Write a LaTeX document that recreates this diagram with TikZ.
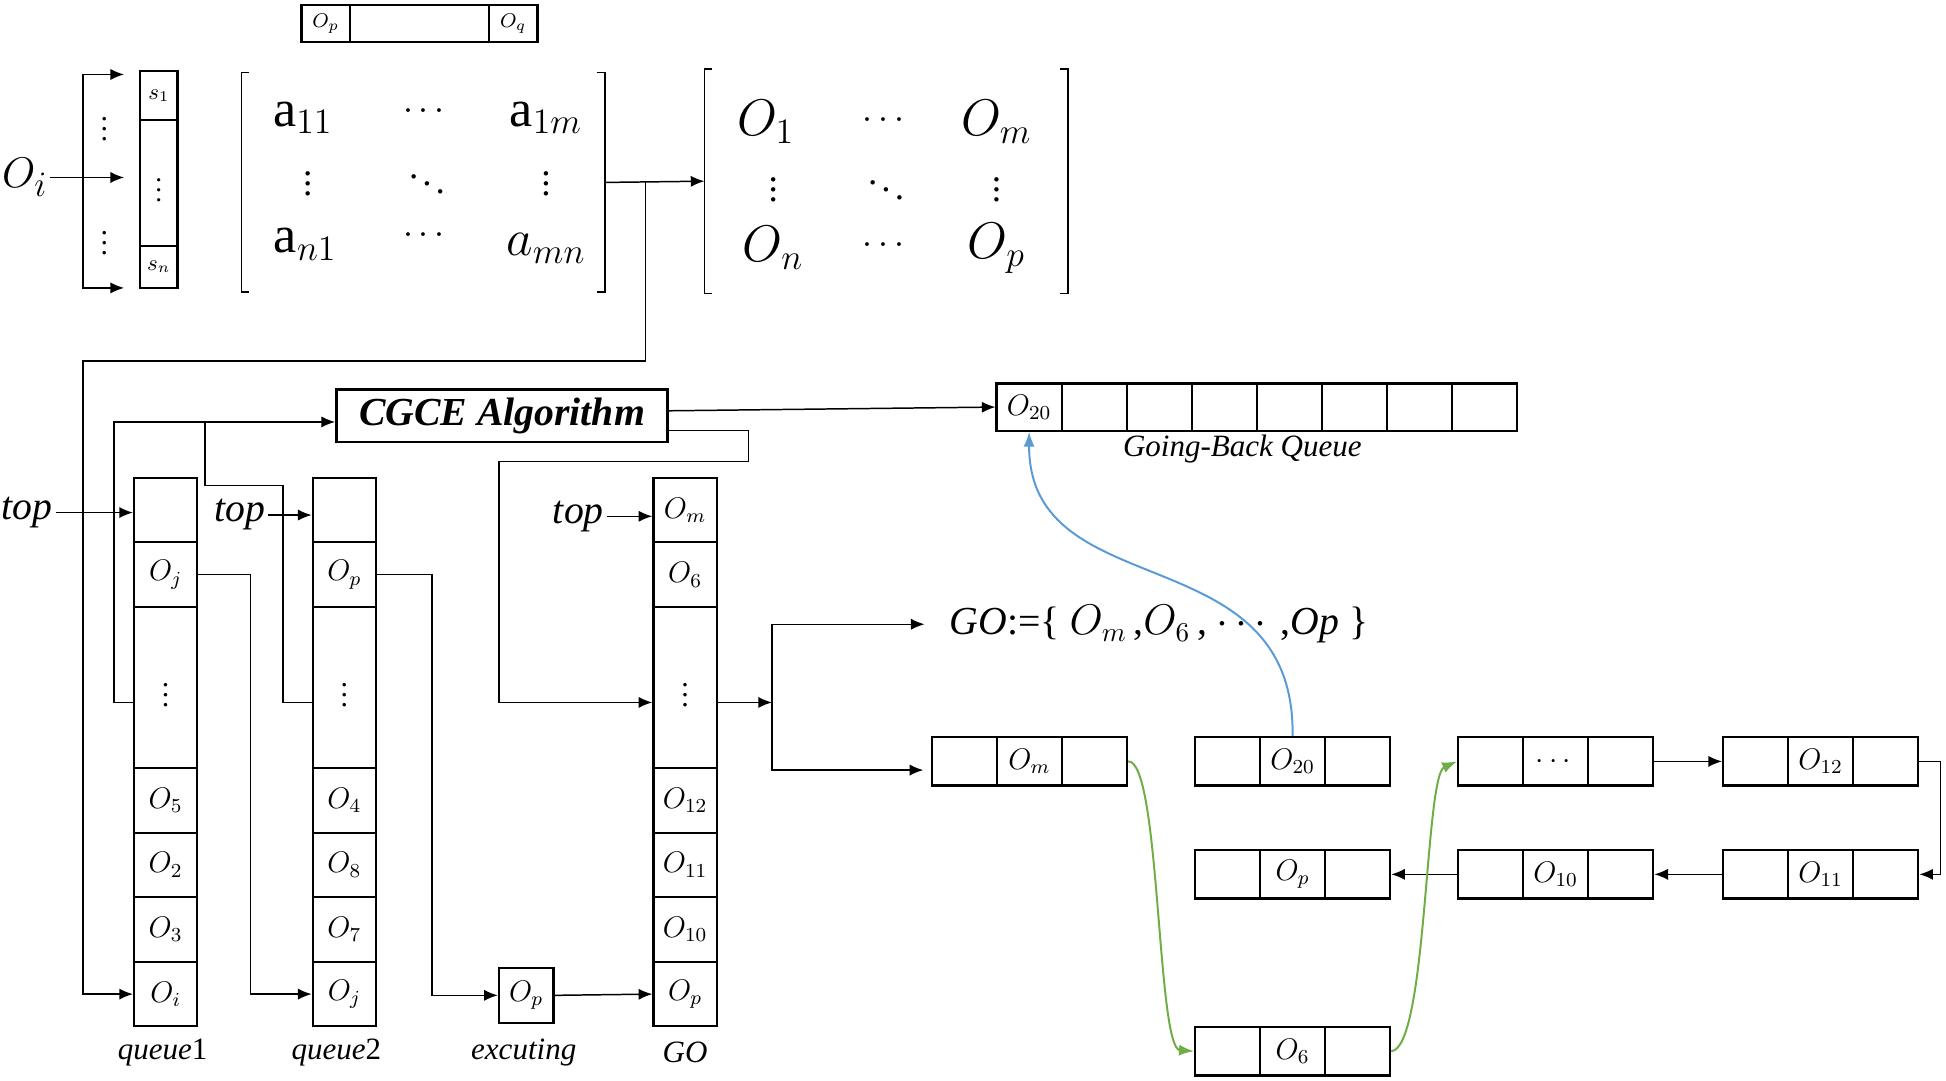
\documentclass[tikz,border=0pt]{standalone}
\usepackage{amsmath}
\usepackage{amssymb}
\usepackage{fontspec}
\setmainfont{Liberation Serif}
\usepackage{tikz}
\usetikzlibrary{arrows.meta}

% three-cell list node: name, x, y, label
\newcommand{\listnode}[4]{%
	\node[lcell] (#1l) at (#2-52.4,#3) {};
	\node[lcell] (#1) at (#2,#3) {#4};
	\node[lcell] (#1r) at (#2+52.4,#3) {};
}

\begin{document}
\begin{tikzpicture}[x=0.5pt,y=-0.5pt]
	\tikzset{cell/.style={draw, line width=0.9pt, minimum width=25.5pt, minimum height=26pt, inner sep=0pt, font=\fontsize{12}{14}\selectfont}}
	\tikzset{lcell/.style={draw, line width=0.9pt, minimum width=26.2pt, minimum height=19.5pt, inner sep=0pt, font=\fontsize{12}{14}\selectfont}}
	\tikzset{conn/.style={line width=0.6pt}}
	\tikzset{arr/.style={conn, -{Latex[length=5.5pt,width=4.5pt]}}}
	\tikzset{brk/.style={line width=0.6pt}}
	\tikzset{lbl/.style={font=\fontsize{12.5}{14}\selectfont\itshape, inner sep=1pt}}
	\tikzset{toplbl/.style={font=\fontsize{16}{18}\selectfont\itshape, inner sep=1pt}}
	\tikzset{bigm/.style={font=\fontsize{21}{24}\selectfont, inner sep=0pt}}
	\tikzset{dotm/.style={font=\fontsize{15}{16}\selectfont, inner sep=0pt}}
	\tikzset{curvearr/.style={line width=0.8pt, -{Latex[length=6pt,width=4.5pt]}}}
	\definecolor{backblue}{RGB}{91,155,213}
	\definecolor{listgreen}{RGB}{112,173,71}
	\useasboundingbox (0,0) rectangle (1568,871);

	%top bar
	\node[draw, line width=0.9pt, minimum width=19.5pt, minimum height=15pt, inner sep=0pt, font=\fontsize{8}{9}\selectfont] (tb1) at (262.5,19) {$O_p$};
	\node[draw, line width=0.9pt, minimum width=56pt, minimum height=15pt] (tb2) at (338,19) {};
	\node[draw, line width=0.9pt, minimum width=19.5pt, minimum height=15pt, inner sep=0pt, font=\fontsize{8}{9}\selectfont] (tb3) at (413.5,19) {$O_q$};

	%input and s bar
	\node[font=\fontsize{19}{22}\selectfont, inner sep=1pt] (Oi) at (20,143) {$O_i$};
	\coordinate (fanx) at (67,143);
	\coordinate (fant) at (100,60);
	\coordinate (fanm) at (100,143);
	\coordinate (fanb) at (100,232);
	\draw[arr] (fanx) |- (fant);
	\draw[arr] (fanx) |- (fanb);
	\draw[arr] (Oi.east) -- (fanm);
	\node[font=\fontsize{12}{14}\selectfont] (fd1) at (84,98) {$\vdots$};
	\node[font=\fontsize{12}{14}\selectfont] (fd2) at (84,190) {$\vdots$};
	\node[draw, line width=0.9pt, minimum width=15pt, minimum height=20pt, inner sep=0pt, font=\fontsize{9}{10}\selectfont] (s1) at (128,77) {$s_1$};
	\node[draw, line width=0.9pt, minimum width=15pt, minimum height=50.5pt, inner sep=0pt, font=\fontsize{11}{12}\selectfont] (sm) at (128,147.5) {$\vdots$};
	\node[draw, line width=0.9pt, minimum width=15pt, minimum height=17pt, inner sep=0pt, font=\fontsize{9}{10}\selectfont] (sn) at (128,215) {$s_n$};

	%matrix a
	\node[minimum width=146pt, minimum height=88pt, inner sep=0pt] (amat) at (341,147) {};
	\draw[brk] ([xshift=3pt]amat.north west) -- (amat.north west) -- (amat.south west) -- ([xshift=3pt]amat.south west);
	\draw[brk] ([xshift=-3pt]amat.north east) -- (amat.north east) -- (amat.south east) -- ([xshift=-3pt]amat.south east);
	\node[bigm] (a11) at (244,95) {$\mathrm{a}_{11}$};
	\node[dotm] (a12) at (344,90) {$\cdots$};
	\node[bigm] (a1m) at (440,95) {$\mathrm{a}_{1m}$};
	\node[dotm] (a21) at (248,142) {$\vdots$};
	\node[dotm] (a22) at (344,142) {$\ddots$};
	\node[dotm] (a2m) at (440,142) {$\vdots$};
	\node[bigm] (an1) at (246,197) {$\mathrm{a}_{n1}$};
	\node[dotm] (an2) at (344,190) {$\cdots$};
	\node[bigm] (amn) at (440,200) {$a_{mn}$};

	%matrix O
	\node[minimum width=146pt, minimum height=90pt, inner sep=0pt] (omat) at (714,146) {};
	\draw[brk] ([xshift=3pt]omat.north west) -- (omat.north west) -- (omat.south west) -- ([xshift=3pt]omat.south west);
	\draw[brk] ([xshift=-3pt]omat.north east) -- (omat.north east) -- (omat.south east) -- ([xshift=-3pt]omat.south east);
	\node[bigm, font=\fontsize{22}{24}\selectfont] (o11) at (617,98) {$O_1$};
	\node[dotm] (o12) at (714,97) {$\cdots$};
	\node[bigm, font=\fontsize{22}{24}\selectfont] (o1m) at (803,98) {$O_m$};
	\node[dotm] (o21) at (623,147) {$\vdots$};
	\node[dotm] (o22) at (714,147) {$\ddots$};
	\node[dotm] (o2m) at (803,147) {$\vdots$};
	\node[bigm, font=\fontsize{22}{24}\selectfont] (on1) at (623,200) {$O_n$};
	\node[dotm] (on2) at (714,198) {$\cdots$};
	\node[bigm, font=\fontsize{22}{24}\selectfont] (onm) at (803,200) {$O_p$};
	\draw[arr] (amat.east) -- (omat.west);

	%queue1
	\node[cell] (q1a) at (133.5,411) {};
	\node[cell] (q1b) at (133.5,463) {$O_j$};
	\node[cell, minimum height=65pt] (q1c) at (133.5,554) {$\vdots$};
	\node[cell] (q1d) at (133.5,645) {$O_5$};
	\node[cell] (q1e) at (133.5,697) {$O_2$};
	\node[cell] (q1f) at (133.5,749) {$O_3$};
	\node[cell] (q1g) at (133.5,801) {$O_i$};
	\node[lbl] (q1n) at (131,848) {queue\upshape 1};
	\node[toplbl] (top1) at (22,413) {top};
	\draw[arr] (top1.east) -- (top1.east -| q1a.west);

	%queue2
	\node[cell] (q2a) at (277.5,411) {};
	\node[cell] (q2b) at (277.5,463) {$O_p$};
	\node[cell, minimum height=65pt] (q2c) at (277.5,554) {$\vdots$};
	\node[cell] (q2d) at (277.5,645) {$O_4$};
	\node[cell] (q2e) at (277.5,697) {$O_8$};
	\node[cell] (q2f) at (277.5,749) {$O_7$};
	\node[cell] (q2g) at (277.5,801) {$O_j$};
	\node[lbl] (q2n) at (271,848) {queue\upshape 2};
	\node[toplbl] (top2) at (193,415) {top};
	\draw[arr] (top2.east) -- (top2.east -| q2a.west);

	%excuting
	\node[cell, minimum width=22pt, minimum height=22pt] (exec) at (424,802) {$O_p$};
	\node[lbl] (execn) at (422,848) {excuting};

	%GO
	\node[cell] (go1) at (552,411) {$O_m$};
	\node[cell] (go2) at (552,463) {$O_6$};
	\node[cell, minimum height=65pt] (go3) at (552,554) {$\vdots$};
	\node[cell] (go4) at (552,645) {$O_{12}$};
	\node[cell] (go5) at (552,697) {$O_{11}$};
	\node[cell] (go6) at (552,749) {$O_{10}$};
	\node[cell] (go7) at (552,801) {$O_p$};
	\node[lbl] (gon) at (552,848) {GO};
	\node[toplbl] (top3) at (466,416) {top};
	\draw[arr] (top3.east) -- (top3.east -| go1.west);

	%CGCE
	\node[draw, line width=1pt, minimum width=133.5pt, minimum height=21pt, inner sep=0pt, font=\fontsize{16}{18}\selectfont\bfseries\itshape] (cgce) at (404.5,335) {CGCE Algorithm};

	%going-back queue
	\foreach \lab [count=\k] in {{$O_{20}$},{},{},{},{},{},{},{}}
		\node[lcell, minimum height=19pt] (g\k) at (776.8+52.4*\k,328) {\lab};
	\node[lbl] (gbq) at (1001,362) {Going-Back Queue};

	%linked list
	\listnode{n1}{829.5}{613.5}{$O_m$}
	\listnode{n2}{1041.5}{613.5}{$O_{20}$}
	\listnode{n3}{1253.5}{613.5}{$\cdots$}
	\listnode{n4}{1467}{613.5}{$O_{12}$}
	\listnode{n5}{1467}{704.5}{$O_{11}$}
	\listnode{n6}{1253.5}{704.5}{$O_{10}$}
	\listnode{n7}{1041.5}{704.5}{$O_p$}
	\listnode{n8}{1041.5}{847}{$O_6$}
	\node[anchor=west, inner sep=0pt, font=\fontsize{16}{20}\selectfont] (goset) at (765,503) {\textit{GO}:=\{ $O_m$\,,$O_6$\,, $\cdots$\,,\textit{Op} \}};

	%edges
	\coordinate (aj) at (520,147);
	\draw[arr] (aj) |- (67,291) |- (q1g.west);
	\coordinate (cin) at (165,340);
	\draw[arr] ([yshift=-6pt]q1c.west) -- (92,566) |- ([yshift=-2.5pt]cgce.west);
	\draw[conn] ([yshift=-6pt]q2c.west) -- (228,566) |- (165,391) -- (cin);
	\draw[arr] ([yshift=2pt]cgce.east) -- (g1.west);
	\draw[arr] ([yshift=-6pt]cgce.east) -- (603,347) |- (402,372) |- ([yshift=-6pt]go3.west);
	\draw[arr] (q1b.east) -- (202,463) |- (q2g.west);
	\draw[arr] (q2b.east) -- (348,463) |- (exec.west);
	\draw[arr] (exec.east) -- (go7.west);
	\coordinate (gsp) at (622,566);
	\draw[arr] ([yshift=-6pt]go3.east) -- (gsp);
	\draw[arr] (gsp) |- ([xshift=-10pt]goset.west);
	\draw[arr] (gsp) |- ([xshift=-3pt,yshift=-3.5pt]n1l.west);
	\draw[arr] (n3r.east) -- (n4l.west);
	\draw[arr] (n4r.east) -- ++(17,0) |- (n5r.east);
	\draw[arr] (n5l.west) -- (n6r.east);
	\draw[arr] (n6l.west) -- (n7r.east);
	\draw[curvearr, listgreen] (n1r.east) .. controls (935,612) and (932,845) .. (n8l.west);
	\draw[curvearr, listgreen] (n8r.east) .. controls (1150,845) and (1148,625) .. (n3l.west);
	\draw[curvearr, backblue] (n2.north) .. controls (1044,430) and (829,490) .. (g1.south);
\end{tikzpicture}
\end{document}
